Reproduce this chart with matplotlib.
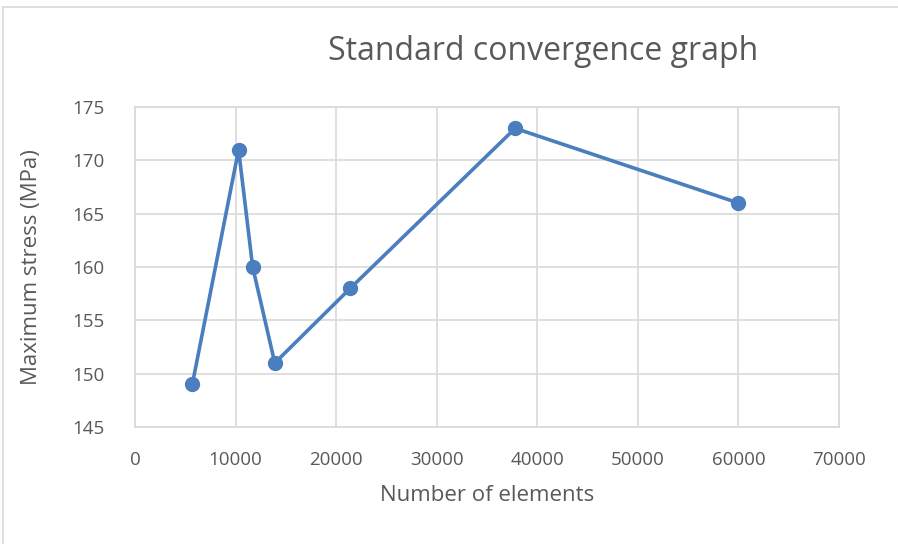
import matplotlib.pyplot as plt
from matplotlib.lines import Line2D

# Mesh convergence study: element count vs peak stress
n_elements = [5700, 10300, 11700, 13900, 21400, 37800, 60000]
max_stress = [149, 171, 160, 151, 158, 173, 166]

x_ticks = [0, 10000, 20000, 30000, 40000, 50000, 60000, 70000]
y_ticks = [145, 150, 155, 160, 165, 170, 175]

W, H = 898, 544
fig = plt.figure(figsize=(W / 100, H / 100), dpi=100)
plt.rcParams['font.family'] = ['Open Sans', 'DejaVu Sans']

ax = fig.add_axes([135 / W, 1 - 427 / H, (839 - 135) / W, (427 - 107) / H])

text_col = '#595959'
grid_col = '#d9d9d9'

ax.plot(n_elements, max_stress, '-o', color='#4a7ebf', lw=2.6, ms=10,
        zorder=3, clip_on=False)

ax.set_xlim(0, 70000)
ax.set_ylim(145, 175)
ax.set_xticks(x_ticks)
ax.set_yticks(y_ticks)
ax.grid(True, color=grid_col, lw=1.2)
ax.set_axisbelow(True)
for s in ax.spines.values():
    s.set_color(grid_col)
    s.set_linewidth(1.2)
ax.tick_params(length=0, labelsize=13.5, colors=text_col)
ax.tick_params(axis='x', pad=17)
ax.tick_params(axis='y', pad=22)

ax.set_xlabel('Number of elements', fontsize=16, color=text_col, labelpad=12)
ax.set_ylabel('Maximum stress (MPa)', fontsize=16, color=text_col, labelpad=22)

fig.text(543 / W, 1 - 52 / H, 'Standard convergence graph', fontsize=23,
         color=text_col, ha='center', va='center')

# chart area frame
fig.add_artist(Line2D([2.5 / W, 2.5 / W], [0, 1 - 7 / H], color=grid_col, lw=1.2))
fig.add_artist(Line2D([2.5 / W, 1], [1 - 7 / H, 1 - 7 / H], color=grid_col, lw=1.2))

fig.savefig('out.png', dpi=100)
